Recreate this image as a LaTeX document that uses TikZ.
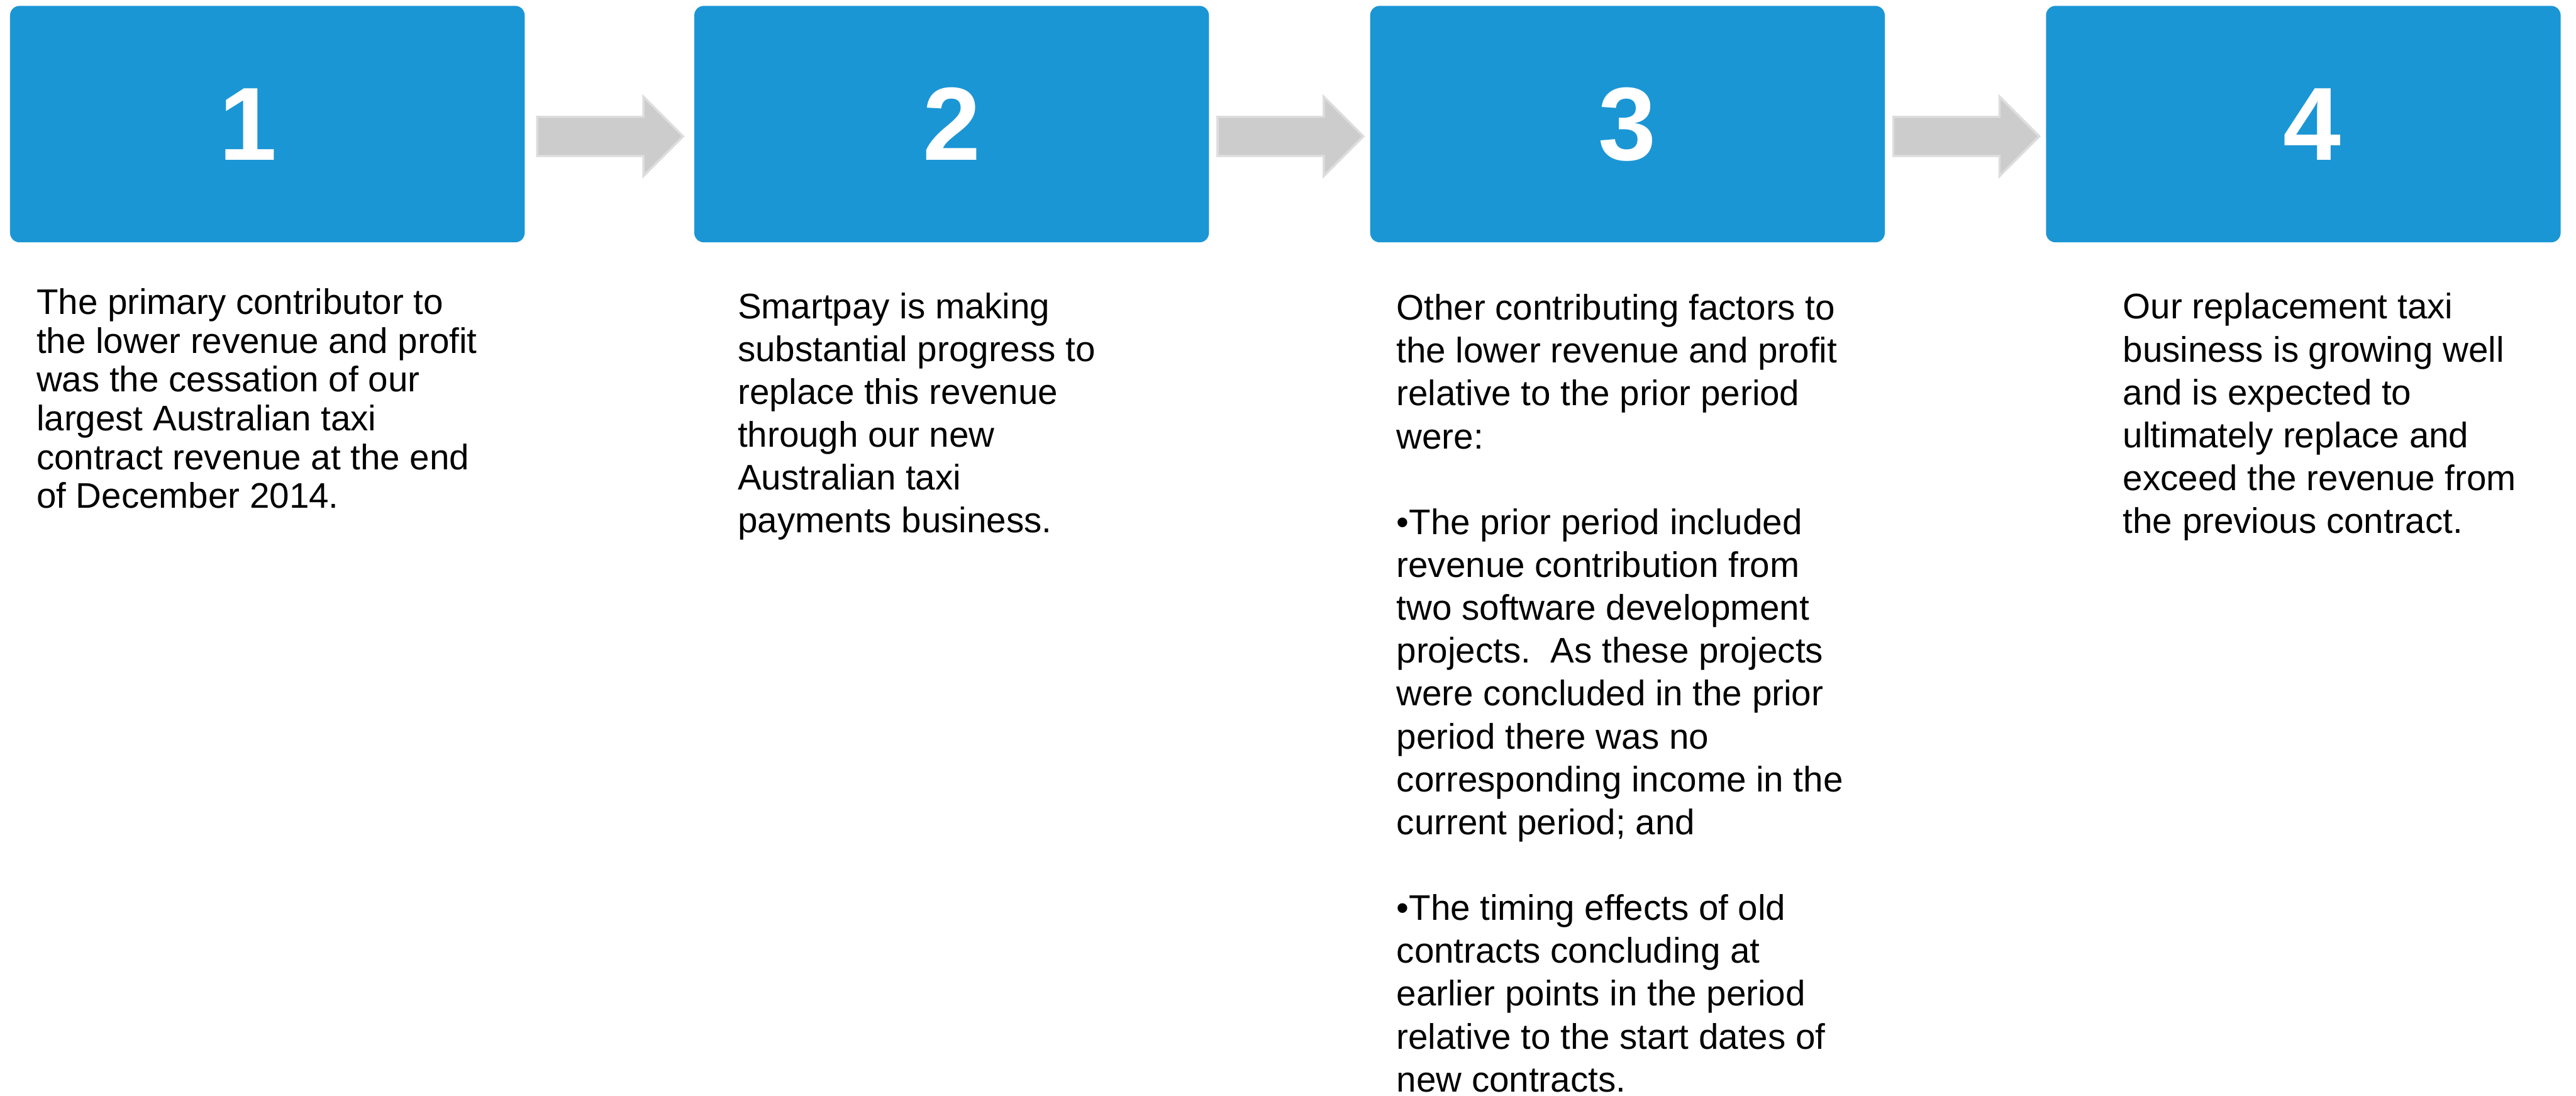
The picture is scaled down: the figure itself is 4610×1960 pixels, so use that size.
\documentclass[tikz,border=0pt]{standalone}
\usepackage{fontspec}
\setmainfont{Liberation Sans}
\usetikzlibrary{shapes.arrows,calc}

\definecolor{stepblue}{RGB}{27,150,213}
\definecolor{arrowgrey}{RGB}{204,204,204}
\definecolor{arrowedge}{RGB}{221,221,221}

\begin{document}
\begin{tikzpicture}[x=0.5pt,y=-0.5pt,
  stepbox/.style={rectangle, rounded corners=8.5pt, fill=stepblue, text=white,
    minimum width=460.5pt, minimum height=211.5pt, inner sep=0pt,
    font=\fontsize{93}{100}\selectfont\bfseries},
  flowarrow/.style={single arrow, single arrow head extend=18pt, minimum width=69pt,
    minimum height=130.5pt, inner xsep=0pt, inner ysep=16.5pt, fill=arrowgrey,
    draw=arrowedge, line width=2pt, anchor=tail},
  blurb/.style={anchor=base west, align=left, inner sep=0pt,
    font=\fontsize{31.8}{38.35}\selectfont}]
  \useasboundingbox (0,0) rectangle (4610,1960);
  \foreach \n/\cx/\dx in {1/478.5/-35pt, 2/1703/0pt, 3/2912.5/0pt, 4/4122/16pt} {   %the four numbered boxes
    \node[stepbox] (box\n) at (\cx,222) {\hspace*{\dx}\n};
  }
  \foreach \a/\gap in {1/20, 2/13, 3/13} {   %grey block arrows between the boxes
    \node[flowarrow] (arr\a) at ($(box\a.east)+(\gap,22)$) {};
  }

  %% texts hang on the baseline of their last line
  \node[blurb, font=\fontsize{31.8}{34.65}\selectfont] (txt1) at (65,909)
    {The primary contributor to\\the lower revenue and profit\\was the cessation of our\\
     largest Australian taxi\\contract revenue at the end\\of December 2014.};
  \node[blurb] (txt2) at (1320,953)
    {Smartpay is making\\substantial progress to\\replace this revenue\\
     through our new\\Australian taxi\\payments business.};
  \node[blurb] (txt3) at (2499,1953)
    {Other contributing factors to\\the lower revenue and profit\\relative to the prior period\\were:\\[38.35pt]
     •The prior period included\\revenue contribution from\\two software development\\
     projects.~~As these projects\\were concluded in the prior\\period there was no\\
     corresponding income in the\\current period; and\\[38.35pt]
     •The timing effects of old\\contracts concluding at\\earlier points in the period\\
     relative to the start dates of\\new contracts.};
  \node[blurb] (txt4) at (3799,954)
    {Our replacement taxi\\business is growing well\\and is expected to\\
     ultimately replace and\\exceed the revenue from\\the previous contract.};
\end{tikzpicture}
\end{document}
